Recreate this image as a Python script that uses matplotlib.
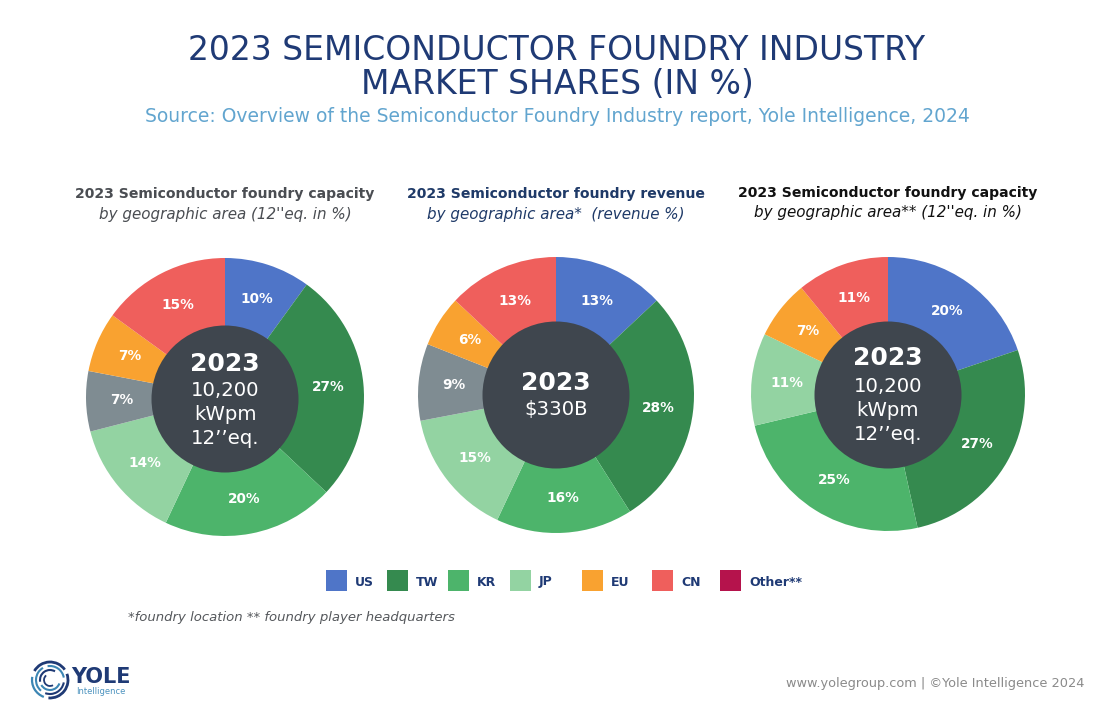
# 2023 foundry market shares - three donuts

import matplotlib
matplotlib.use('Agg')
import numpy as np
import matplotlib.pyplot as plt
from matplotlib.patches import Circle, Rectangle, Arc

# slice order: US, TW, KR, JP, (grey, not in the legend), EU, CN
capacity_area = [10, 27, 20, 14, 7, 7, 15]
revenue_area = [13, 28, 16, 15, 9, 6, 13]
capacity_hq = [20, 27, 25, 11, 0, 7, 11]

slice_colors = ['#4F75C8', '#358A4F', '#4DB46B', '#93D3A2', '#7F8C92', '#F9A230', '#EF5F5C']

legend_names = ['US', 'TW', 'KR', 'JP', 'EU', 'CN', 'Other']
legend_colors = ['#4F75C8', '#358A4F', '#4DB46B', '#93D3A2', '#F9A230', '#EF5F5C', '#B5134C']
legend_x = [326, 387, 448, 510, 582, 652, 720]

NAVY = '#1F3A75'
DARK = '#3F464E'
W, H = 1114, 720

plt.rcParams['font.family'] = 'DejaVu Sans'

fig = plt.figure(figsize=(W / 100, H / 100), dpi=100, facecolor='white')
ax = fig.add_axes([0, 0, 1, 1])


def py(y):
    # pixel rows of the picture count from the top
    return H - y


def donut(values, cx, cy, radius, hole_cy, center_lines, head, sub, head_color, head_y):
    wedges, _ = ax.pie(values, colors=slice_colors, center=(cx, py(cy)), radius=radius,
                       startangle=90, counterclock=False, frame=True,
                       wedgeprops={'linewidth': 0})
    for wedge, val in zip(wedges, values):
        if val == 0:
            continue
        mid = np.deg2rad((wedge.theta1 + wedge.theta2) / 2)
        ax.text(cx + 0.745 * radius * np.cos(mid), py(cy) + 0.745 * radius * np.sin(mid),
                f'{val}%', color='white', fontsize=9.8, fontweight='bold',
                ha='center', va='center')
    ax.add_patch(Circle((cx, py(hole_cy)), 73.5, color=DARK, zorder=5, lw=0))
    for txt, ty, size, weight in center_lines:
        ax.text(cx, py(ty), txt, color='white', fontsize=size, fontweight=weight,
                ha='center', va='center', zorder=6)
    ax.text(cx, py(head_y), head, color=head_color, fontsize=10.1, fontweight='bold',
            ha='center', va='center')
    ax.text(cx, py(head_y + 20), sub, color=head_color, fontsize=10.9, style='italic',
            ha='center', va='center')


center_left = [('2023', 364, 18, 'bold'), ('10,200', 391, 14.2, 'normal'),
               ('kWpm', 415, 14.2, 'normal'), ('12’’eq.', 439, 14.2, 'normal')]
center_mid = [('2023', 383, 18, 'bold'), ('$330B', 410, 14.2, 'normal')]
center_right = [('2023', 358, 18, 'bold'), ('10,200', 387, 14.2, 'normal'),
                ('kWpm', 411, 14.2, 'normal'), ('12’’eq.', 435, 14.2, 'normal')]

donut(capacity_area, 225, 397, 139, 399, center_left,
      '2023 Semiconductor foundry capacity', 'by geographic area (12\'\'eq. in %)', '#4A4D52', 194)
donut(revenue_area, 556, 395, 138, 395, center_mid,
      '2023 Semiconductor foundry revenue', 'by geographic area*  (revenue %)', '#1F3A68', 194)
donut(capacity_hq, 888, 394, 137, 395, center_right,
      '2023 Semiconductor foundry capacity', 'by geographic area** (12\'\'eq. in %)', '#111111', 193)

ax.text(557, py(50), '2023 SEMICONDUCTOR FOUNDRY INDUSTRY', color=NAVY, fontsize=23.8,
        ha='center', va='center')
ax.text(557, py(85), 'MARKET SHARES (IN %)', color=NAVY, fontsize=23.8, ha='center', va='center')
ax.text(557, py(117), 'Source: Overview of the Semiconductor Foundry Industry report, Yole Intelligence, 2024',
        color='#62A5CF', fontsize=13.5, ha='center', va='center')

# legend
for name, col, x in zip(legend_names, legend_colors, legend_x):
    ax.add_patch(Rectangle((x, py(591)), 21, 21, color=col, lw=0))
    label = name + '**' if name == 'Other' else name
    ax.text(x + 29, py(585.5), label, color=NAVY, fontsize=9, fontweight='bold',
            ha='left', va='baseline')

ax.text(128, py(617), '*foundry location ** foundry player headquarters', color='#55585C',
        fontsize=9.5, style='italic', ha='left', va='center')

# logo
for r, t1, t2, c, lw in [(18, 35, 150, NAVY, 2.0), (18, 170, 250, '#3C86B4', 1.6),
                         (18, 265, 20, NAVY, 2.0), (14, 120, 230, '#3C86B4', 1.5),
                         (14, 250, 350, NAVY, 1.5), (14, 10, 100, '#3C86B4', 1.5),
                         (10, 60, 190, NAVY, 1.5), (10, 210, 340, '#3C86B4', 1.5),
                         (6, 130, 300, NAVY, 1.3)]:
    ax.add_patch(Arc((50, py(680)), 2 * r, 2 * r, theta1=t1, theta2=t2, color=c, lw=lw))
ax.text(71, py(677), 'YOLE', color=NAVY, fontsize=15, fontweight='bold', ha='left', va='center')
ax.text(76, py(691), 'Intelligence', color='#4C93BF', fontsize=6, ha='left', va='center')

ax.text(1084, py(684), 'www.yolegroup.com | ©Yole Intelligence 2024', color='#8A8A8A',
        fontsize=9.3, ha='right', va='center')

ax.set_xlim(0, W)
ax.set_ylim(0, H)
ax.set_aspect('auto')
ax.axis('off')

plt.savefig('out.png', dpi=100)
